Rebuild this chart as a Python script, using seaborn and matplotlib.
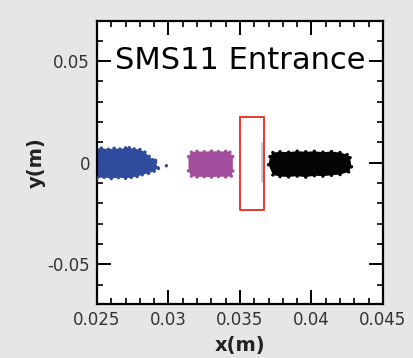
import matplotlib
matplotlib.use("Agg")
import matplotlib.pyplot as plt
import seaborn as sns
import pandas as pd
from matplotlib.ticker import MultipleLocator, FixedLocator

# ---- data (metres) ----
blue_x = [0.0248, 0.0253, 0.0258, 0.0262, 0.0266, 0.0270, 0.02725, 0.0276, 0.0280, 0.02835, 0.02865,
          0.0289, 0.0291, 0.02925, 0.0290, 0.0286, 0.02816, 0.0278, 0.0274, 0.0270, 0.0265, 0.0260,
          0.0255, 0.0250, 0.0248]
blue_y = [0.0068, 0.0072, 0.0066, 0.0071, 0.0067, 0.0073, 0.0074, 0.0068, 0.0065, 0.0052, 0.0031,
          0.0015, 0.0002, -0.0025, -0.0042, -0.0052, -0.0059, -0.0068, -0.0072, -0.0077, -0.0073,
          -0.0078, -0.0072, -0.0076, -0.0070]
blue_stray_x = [0.0291, 0.0293, 0.02985]
blue_stray_y = [0.0012, -0.0028, -0.0015]

mag_x = [0.0314, 0.0316, 0.0320, 0.0325, 0.0330, 0.0335, 0.0340, 0.0343, 0.0345, 0.0345, 0.0344,
         0.0340, 0.0335, 0.0330, 0.0325, 0.0320, 0.0316, 0.0314]
mag_y = [0.0030, 0.0052, 0.0056, 0.0054, 0.0057, 0.0055, 0.0056, 0.0052, 0.0030, -0.0040, -0.0066,
         -0.0070, -0.0068, -0.0071, -0.0069, -0.0070, -0.0066, -0.0040]

blk_x = [0.0371, 0.0373, 0.0378, 0.0384, 0.0390, 0.0396, 0.0402, 0.0408, 0.0414, 0.0420, 0.0425,
         0.0427, 0.0428, 0.0426, 0.0420, 0.0414, 0.0408, 0.0402, 0.0396, 0.0390, 0.0384, 0.0378,
         0.0373, 0.0370]
blk_y = [0.0030, 0.0050, 0.0054, 0.0052, 0.0057, 0.0054, 0.0056, 0.0052, 0.0055, 0.0050, 0.0040,
         0.0025, -0.0020, -0.0045, -0.0058, -0.0062, -0.0066, -0.0064, -0.0071, -0.0066, -0.0070,
         -0.0068, -0.0060, -0.0010]

rect_x = [0.03497, 0.03665, 0.03665, 0.03497, 0.03497]
rect_y = [0.0225, 0.0225, -0.0232, -0.0232, 0.0225]

x_ticks = [0.025, 0.03, 0.035, 0.04, 0.045]
x_labels = ["0.025", "0.03", "0.035", "0.04", "0.045"]
y_ticks = [-0.05, 0, 0.05]
y_labels = ["-0.05", "0", "0.05"]

title_text = "SMS11 Entrance"

BG = "#e6e6e6"
BLUE = "#2f4c9e"
MAG = "#a44f9e"
BLK = "#050505"
RED = "#e8382e"

sns.set_theme(style="white")
plt.rcParams["font.family"] = ["DejaVu Sans"]

fig = plt.figure(figsize=(4.14, 3.58), dpi=100, facecolor=BG)
ax = fig.add_axes([0.2343, 0.1508, 0.6907, 0.7893])
ax.set_facecolor("white")

# clouds
ax.fill(blue_x, blue_y, color=BLUE, lw=0, zorder=2)
ax.fill(mag_x, mag_y, color=MAG, lw=0, zorder=2)
ax.fill(blk_x, blk_y, color=BLK, lw=0, zorder=2)

pts = pd.DataFrame({
    "x": blue_x + blue_stray_x + mag_x + blk_x,
    "y": blue_y + blue_stray_y + mag_y + blk_y,
    "g": ["b"] * (len(blue_x) + len(blue_stray_x)) + ["m"] * len(mag_x) + ["k"] * len(blk_x),
})
sns.scatterplot(data=pts, x="x", y="y", hue="g", palette={"b": BLUE, "m": MAG, "k": BLK},
                s=6, linewidth=0, legend=False, ax=ax, zorder=3)

# faint trace near the aperture edge
ax.plot([0.03655, 0.03655], [-0.0095, 0.0095], color="#9a9a9a", lw=1.2, alpha=0.6, zorder=2)

# aperture rectangle
sns.lineplot(x=rect_x, y=rect_y, sort=False, color=RED, lw=1.4, ax=ax, zorder=4,
             estimator=None)

ax.set_xlim(0.025, 0.045)
ax.set_ylim(-0.0695, 0.0695)

ax.xaxis.set_major_locator(FixedLocator(x_ticks))
ax.set_xticklabels(x_labels)
ax.yaxis.set_major_locator(FixedLocator(y_ticks))
ax.set_yticklabels(y_labels)
ax.xaxis.set_minor_locator(MultipleLocator(0.001))
ax.yaxis.set_minor_locator(MultipleLocator(0.01))

ax.tick_params(which="both", direction="in", top=True, right=True, bottom=True, left=True,
               color="black", labelsize=12, labelcolor="#333333")
ax.tick_params(which="major", length=10, width=1.4, pad=5)
ax.tick_params(which="minor", length=4.5, width=1.2)
for s in ax.spines.values():
    s.set_color("black")
    s.set_linewidth(1.6)

ax.set_xlabel("x(m)", fontsize=14, fontweight="bold", color="#222222", labelpad=5)
ax.set_ylabel("y(m)", fontsize=14, fontweight="bold", color="#222222", labelpad=1)

ax.text(0.0350, 0.0505, title_text, fontsize=22, color="black", ha="center", va="center",
        zorder=5)

fig.savefig("out.png", dpi=100, facecolor=BG)
